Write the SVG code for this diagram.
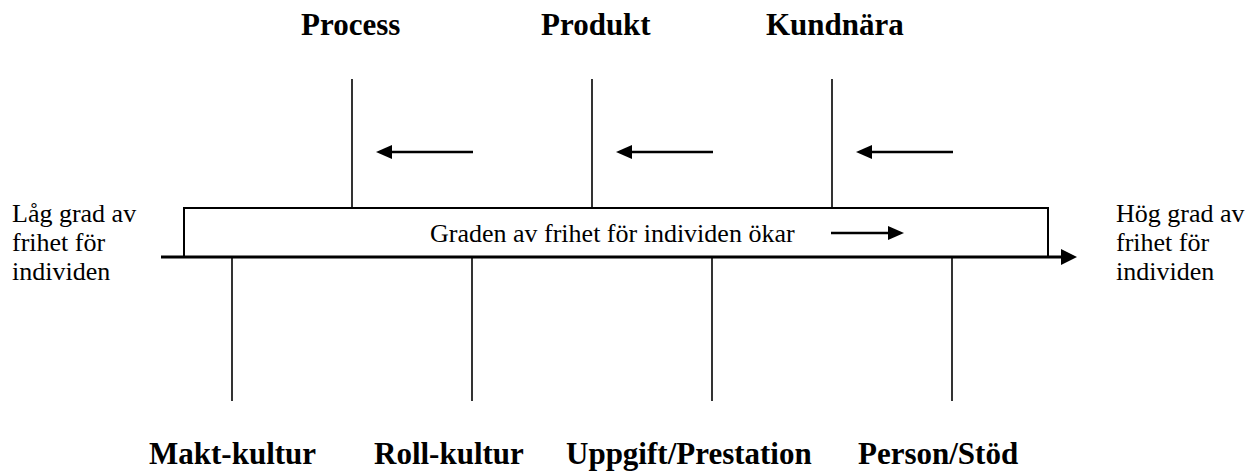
<svg xmlns="http://www.w3.org/2000/svg" width="1258" height="472" viewBox="0 0 1258 472">
  <style>
    .bg { fill: #ffffff; }
    text { font-family: 'Liberation Serif', 'Times New Roman', Times, 'DejaVu Serif', serif; fill: #000; }
    .lbl { font-weight: bold; font-size: 31px; }
    .txt { font-size: 26px; }
    .tick { stroke: #000; stroke-width: 1.6; fill: none; }
    .box { stroke: #000; stroke-width: 2; fill: #fff; }
    .axis { stroke: #000; stroke-width: 3; fill: none; }
    .arr { stroke: #000; stroke-width: 2.6; fill: none; }
  </style>
  <defs>
    <marker id="head" viewBox="0 0 16 14" refX="0" refY="7" markerWidth="16" markerHeight="14" markerUnits="userSpaceOnUse" orient="auto">
      <path d="M0,0 L16,7 L0,14 Z" fill="#000"/>
    </marker>
    <marker id="headBig" viewBox="0 0 16 16" refX="0" refY="8" markerWidth="16" markerHeight="16" markerUnits="userSpaceOnUse" orient="auto">
      <path d="M0,0 L16,8 L0,16 Z" fill="#000"/>
    </marker>
  </defs>

  <rect class="bg" x="0" y="0" width="1258" height="472"/>

  <!-- central band -->
  <g id="band">
    <rect class="box" x="184" y="208" width="864" height="49"/>
    <text class="txt" x="430" y="242" font-family="Liberation Serif, serif">Graden av frihet för individen ökar</text>
  </g>

  <!-- side captions -->
  <g id="low" font-family="Liberation Serif, serif">
    <text class="txt" x="12" y="222">Låg grad av</text>
    <text class="txt" x="12" y="251">frihet för</text>
    <text class="txt" x="12" y="280">individen</text>
  </g>
  <g id="high" font-family="Liberation Serif, serif">
    <text class="txt" x="1116" y="222">Hög grad av</text>
    <text class="txt" x="1116" y="251">frihet för</text>
    <text class="txt" x="1116" y="280">individen</text>
  </g>

  <!-- upper categories -->
  <g id="process"><text class="lbl" x="301" y="35">Process</text></g>
  <g id="produkt"><text class="lbl" x="541" y="35">Produkt</text></g>
  <g id="kundnara"><text class="lbl" x="766" y="35">Kundnära</text></g>

  <!-- lower categories -->
  <g id="makt"><text class="lbl" x="149" y="464">Makt-kultur</text></g>
  <g id="roll"><text class="lbl" x="374" y="464">Roll-kultur</text></g>
  <g id="uppgift"><text class="lbl" x="566" y="464">Uppgift/Prestation</text></g>
  <g id="person"><text class="lbl" x="858" y="464">Person/Stöd</text></g>

  <!-- connectors -->
  <g id="connectors">
    <line class="tick" x1="352" y1="79" x2="352" y2="208"/>
    <line class="tick" x1="592" y1="79" x2="592" y2="208"/>
    <line class="tick" x1="832" y1="79" x2="832" y2="208"/>
    <line class="tick" x1="232" y1="257" x2="232" y2="401"/>
    <line class="tick" x1="472" y1="257" x2="472" y2="401"/>
    <line class="tick" x1="712" y1="257" x2="712" y2="401"/>
    <line class="tick" x1="952" y1="257" x2="952" y2="401"/>

    <line class="axis" x1="161" y1="257" x2="1061" y2="257" marker-end="url(#headBig)"/>

    <line class="arr" x1="473" y1="152" x2="392" y2="152" marker-end="url(#head)"/>
    <line class="arr" x1="713" y1="152" x2="632" y2="152" marker-end="url(#head)"/>
    <line class="arr" x1="953" y1="152" x2="872" y2="152" marker-end="url(#head)"/>
    <line class="arr" x1="831" y1="233" x2="888" y2="233" marker-end="url(#head)"/>
  </g>
</svg>
